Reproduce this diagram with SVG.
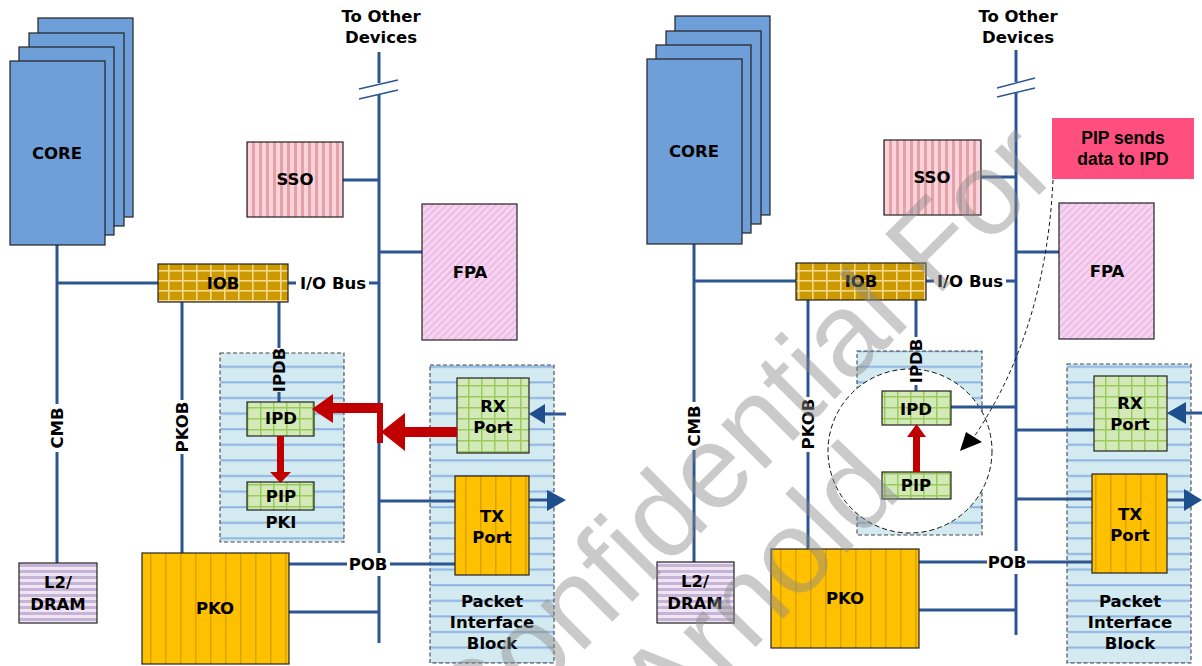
<svg xmlns="http://www.w3.org/2000/svg" width="1202" height="666" viewBox="0 0 1202 666">
<defs>
<style>
.box{stroke:#222;stroke-width:1.2}
.core{fill:#6f9fd9;stroke:#222;stroke-width:1.2}
.conn{stroke:#2d5592;stroke-width:3;fill:none}
.thin{stroke:#2d5592;stroke-width:1.5;fill:none}
.lbl{font-family:"DejaVu Sans",Verdana,sans-serif;font-weight:700;font-size:16.5px;text-anchor:middle;fill:#000}
.region{stroke:#444;stroke-width:1.1;stroke-dasharray:4 2.5}
.red{fill:#c00000}
.navy{fill:#1f4e8c}
.wm{font-family:"Liberation Sans",Arial,sans-serif;font-size:118px;fill:#8a8a8a;fill-opacity:0.45}
</style>
<pattern id="pPib" patternUnits="userSpaceOnUse" width="10" height="15.6"><rect width="10" height="15.6" fill="#d3eaf1"/><rect y="7" width="10" height="2" fill="#8db4e2"/></pattern>
<pattern id="pGrn" patternUnits="userSpaceOnUse" width="13" height="11"><rect width="13" height="11" fill="#d4e9b8"/><rect width="1.5" height="11" fill="#98cb5c"/><rect width="13" height="1.5" fill="#98cb5c"/></pattern>
<pattern id="pIob" patternUnits="userSpaceOnUse" width="14" height="10"><rect width="14" height="10" fill="#cc9900"/><rect width="1.6" height="10" fill="#f4d98c"/><rect width="14" height="1.6" fill="#f4d98c"/></pattern>
<pattern id="pPko" patternUnits="userSpaceOnUse" width="15" height="10"><rect width="15" height="10" fill="#ffc000"/><rect width="1.5" height="10" fill="#d9a300"/></pattern>
<pattern id="pSso" patternUnits="userSpaceOnUse" width="7" height="10"><rect width="7" height="10" fill="#fbd2dc"/><rect width="3" height="10" fill="#e3a3a6"/></pattern>
<pattern id="pFpa" patternUnits="userSpaceOnUse" width="5" height="5" patternTransform="rotate(45)"><rect width="5" height="5" fill="#f7d3f1"/><rect width="1.3" height="5" fill="#e6b2df"/></pattern>
<pattern id="pL2" patternUnits="userSpaceOnUse" width="10" height="6"><rect width="10" height="6" fill="#eee6f3"/><rect width="10" height="3" fill="#c6b3d6"/></pattern>
</defs>
<rect width="1202" height="666" fill="#fff"/>

<!-- ===== LEFT DIAGRAM: regions ===== -->
<g id="pib-l">
<rect x="430" y="365" width="124" height="298" fill="url(#pPib)" class="region"/>
<text class="lbl" x="492" y="607">Packet</text>
<text class="lbl" x="492" y="628">Interface</text>
<text class="lbl" x="492" y="649">Block</text>
</g>
<g id="pki-l">
<rect x="220" y="353" width="124" height="189" fill="url(#pPib)" class="region"/>
<text class="lbl" x="281" y="528">PKI</text>
</g>

<!-- ===== RIGHT DIAGRAM: regions ===== -->
<g id="pib-r">
<rect x="1067" y="364" width="124" height="299" fill="url(#pPib)" class="region"/>
<text class="lbl" x="1130" y="607">Packet</text>
<text class="lbl" x="1130" y="628">Interface</text>
<text class="lbl" x="1130" y="649">Block</text>
</g>
<g id="pki-r">
<rect x="857" y="351" width="125" height="184" fill="url(#pPib)" class="region"/>
<circle cx="910" cy="451" r="82" fill="#fff" stroke="#111" stroke-width="1" stroke-dasharray="5 3"/>
</g>

<!-- ===== CONNECTORS ===== -->
<g id="connectors">
<!-- left -->
<path class="conn" d="M379,52V83M379,94V553M379,576V643"/>
<path class="thin" d="M359,89L398,80M359,99L398,90"/>
<path class="conn" d="M343,180H379M379,252H422"/>
<path class="conn" d="M57,245V404M57,452V563M57,283H158"/>
<path class="conn" d="M288,283H296M369,283H379"/>
<path class="conn" d="M182,302V400M182,454V553"/>
<path class="conn" d="M279,302V348M279,392V402"/>
<path class="conn" d="M379,501H455"/>
<path class="conn" d="M529,500H549"/>
<polygon class="navy" points="547,490 566,500 547,511"/>
<path class="conn" d="M566,414H544"/>
<polygon class="navy" points="545,404 529,414 545,424"/>
<path class="conn" d="M285,564H347M390,564H458"/>
<path class="conn" d="M285,612H379"/>
<!-- right -->
<path class="conn" d="M1016,50V82M1016,93V551M1016,574V635"/>
<path class="thin" d="M997,88L1035,78M997,97L1035,88"/>
<path class="conn" d="M981,177H1016M1016,252H1059"/>
<path class="conn" d="M694,244V402M694,450V562M694,281H796"/>
<path class="conn" d="M926,281H934M1006,281H1016"/>
<path class="conn" d="M808,300V397M808,452V549"/>
<path class="conn" d="M916,300V337M916,385V391"/>
<path class="conn" d="M951,407H1016M1016,430H1094M1016,499H1092"/>
<path class="conn" d="M1167,500H1186"/>
<polygon class="navy" points="1184,489 1202,500 1184,511"/>
<path class="conn" d="M1202,413H1185"/>
<polygon class="navy" points="1186,402 1167,413 1186,424"/>
<path class="conn" d="M915,562H987M1027,562H1095"/>
<path class="conn" d="M915,610H1016"/>
<path d="M1053,180Q1046,330 974,437" fill="none" stroke="#111" stroke-width="1" stroke-dasharray="4 3"/>
<polygon points="960,451 966,432 982,442" fill="#000"/>
</g>

<!-- ===== LEFT NODES ===== -->
<g id="core-l">
<rect class="core" x="38" y="18" width="95" height="199"/>
<rect class="core" x="29" y="33" width="95" height="193"/>
<rect class="core" x="19" y="47" width="95" height="188"/>
<rect class="core" x="10" y="61" width="95" height="184"/>
<text class="lbl" x="57" y="159">CORE</text>
</g>
<g id="sso-l">
<rect class="box" x="247" y="142" width="96" height="75" fill="url(#pSso)"/>
<text class="lbl" x="295" y="185">SSO</text>
</g>
<g id="fpa-l">
<rect class="box" x="422" y="204" width="95" height="136" fill="url(#pFpa)"/>
<text class="lbl" x="470" y="278">FPA</text>
</g>
<g id="iob-l">
<rect class="box" x="158" y="264" width="130" height="38" fill="url(#pIob)"/>
<text class="lbl" x="223" y="289">IOB</text>
</g>
<g id="lbl-l">
<text class="lbl" x="333" y="289">I/O Bus</text>
<text class="lbl" x="381" y="22">To Other</text>
<text class="lbl" x="381" y="43">Devices</text>
<text class="lbl" x="368" y="570">POB</text>
<text class="lbl" transform="translate(57,428) rotate(-90)" y="6">CMB</text>
<text class="lbl" transform="translate(182,427) rotate(-90)" y="6">PKOB</text>
<text class="lbl" transform="translate(279,370) rotate(-90)" y="6">IPDB</text>
</g>
<g id="ipd-l">
<rect class="box" x="247" y="402" width="67" height="34" fill="url(#pGrn)"/>
<text class="lbl" x="281" y="424">IPD</text>
</g>
<g id="pip-l">
<rect class="box" x="247" y="482" width="67" height="28" fill="url(#pGrn)"/>
<text class="lbl" x="281" y="502">PIP</text>
</g>
<g id="l2-l">
<rect class="box" x="19" y="563" width="78" height="60" fill="url(#pL2)"/>
<text class="lbl" x="58" y="588">L2/</text>
<text class="lbl" x="58" y="610">DRAM</text>
</g>
<g id="pko-l">
<rect class="box" x="142" y="553" width="147" height="111" fill="url(#pPko)"/>
<text class="lbl" x="215" y="614">PKO</text>
</g>
<g id="rx-l">
<rect class="box" x="457" y="378" width="72" height="75" fill="url(#pGrn)"/>
<text class="lbl" x="493" y="412">RX</text>
<text class="lbl" x="493" y="433">Port</text>
</g>
<g id="tx-l">
<rect class="box" x="455" y="476" width="74" height="99" fill="url(#pPko)"/>
<text class="lbl" x="492" y="522">TX</text>
<text class="lbl" x="492" y="543">Port</text>
</g>
<g id="flow-l">
<polygon class="red" points="277,436 284,436 284,472 291,472 280.5,483 270,472 277,472"/>
<polygon class="red" points="312,409 333,394 333,403 383,403 383,443 377,443 377,413 333,413 333,423"/>
<polygon class="red" points="381,432 405,413 405,427 457,427 457,437 405,437 405,451"/>
</g>

<!-- ===== RIGHT NODES ===== -->
<g id="core-r">
<rect class="core" x="675" y="16" width="95" height="199"/>
<rect class="core" x="666" y="31" width="95" height="193"/>
<rect class="core" x="656" y="45" width="95" height="188"/>
<rect class="core" x="647" y="59" width="95" height="185"/>
<text class="lbl" x="694" y="157">CORE</text>
</g>
<g id="sso-r">
<rect class="box" x="884" y="140" width="97" height="75" fill="url(#pSso)"/>
<text class="lbl" x="932" y="183">SSO</text>
</g>
<g id="fpa-r">
<rect class="box" x="1059" y="203" width="95" height="136" fill="url(#pFpa)"/>
<text class="lbl" x="1107" y="277">FPA</text>
</g>
<g id="iob-r">
<rect class="box" x="796" y="263" width="130" height="37" fill="url(#pIob)"/>
<text class="lbl" x="861" y="287">IOB</text>
</g>
<g id="lbl-r">
<text class="lbl" x="970" y="287">I/O Bus</text>
<text class="lbl" x="1018" y="22">To Other</text>
<text class="lbl" x="1018" y="43">Devices</text>
<text class="lbl" x="1007" y="568">POB</text>
<text class="lbl" transform="translate(694,426) rotate(-90)" y="6">CMB</text>
<text class="lbl" transform="translate(808,424) rotate(-90)" y="6">PKOB</text>
<text class="lbl" transform="translate(916,361) rotate(-90)" y="6">IPDB</text>
</g>
<g id="ipd-r">
<rect class="box" x="882" y="391" width="69" height="34" fill="url(#pGrn)"/>
<text class="lbl" x="916" y="415">IPD</text>
</g>
<g id="pip-r">
<rect class="box" x="882" y="472" width="69" height="27" fill="url(#pGrn)"/>
<text class="lbl" x="916" y="491">PIP</text>
</g>
<g id="l2-r">
<rect class="box" x="657" y="562" width="77" height="61" fill="url(#pL2)"/>
<text class="lbl" x="695" y="587">L2/</text>
<text class="lbl" x="695" y="609">DRAM</text>
</g>
<g id="pko-r">
<rect class="box" x="771" y="549" width="148" height="99" fill="url(#pPko)"/>
<text class="lbl" x="845" y="604">PKO</text>
</g>
<g id="rx-r">
<rect class="box" x="1094" y="376" width="73" height="75" fill="url(#pGrn)"/>
<text class="lbl" x="1130" y="409">RX</text>
<text class="lbl" x="1130" y="430">Port</text>
</g>
<g id="tx-r">
<rect class="box" x="1092" y="474" width="75" height="99" fill="url(#pPko)"/>
<text class="lbl" x="1130" y="520">TX</text>
<text class="lbl" x="1130" y="541">Port</text>
</g>
<g id="note-r">
<rect x="1052" y="118" width="142" height="61" fill="#fe4f7f"/>
<text x="1123" y="144" style="font-family:'Liberation Sans',Arial,sans-serif;font-weight:700;font-size:17.5px;text-anchor:middle">PIP sends</text>
<text x="1123" y="165" style="font-family:'Liberation Sans',Arial,sans-serif;font-weight:700;font-size:17.5px;text-anchor:middle">data to IPD</text>
</g>
<g id="flow-r">
<polygon class="red" points="913,472 920,472 920,437 926,437 916.5,424 907,437 913,437"/>
</g>

<!-- ===== WATERMARK ===== -->
<g id="watermark">
<text class="wm" transform="translate(472,762) rotate(-45)">Confidential For</text>
<text class="wm" transform="translate(668,738) rotate(-46)">Arnold</text>
</g>
</svg>
